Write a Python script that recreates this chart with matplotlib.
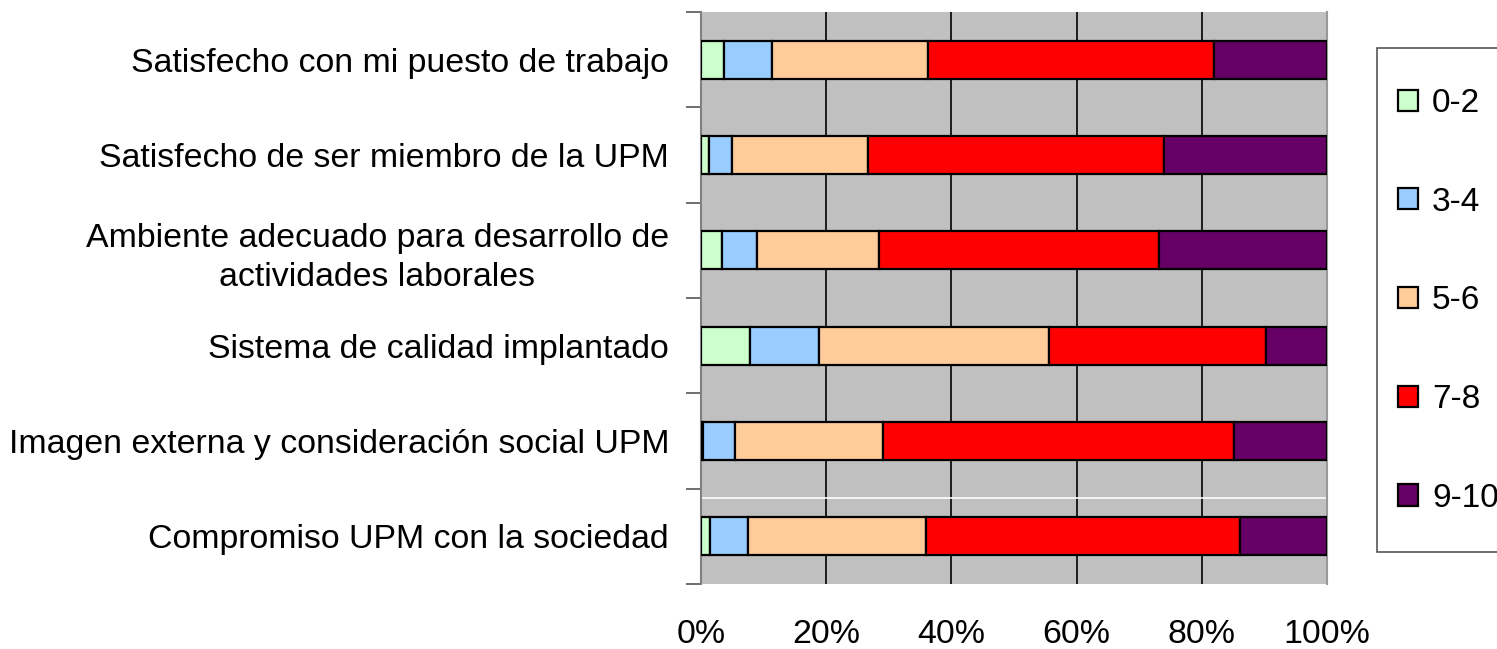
import matplotlib
matplotlib.use("Agg")
import matplotlib.pyplot as plt
from matplotlib.patches import Rectangle
import numpy as np

plt.rcParams['font.family'] = ['Liberation Sans', 'DejaVu Sans']

categories = [
    "Satisfecho con mi puesto de trabajo",
    "Satisfecho de ser miembro de la UPM",
    "Ambiente adecuado para desarrollo de\nactividades laborales",
    "Sistema de calidad implantado",
    "Imagen externa y consideración social UPM",
    "Compromiso UPM con la sociedad",
]
series_names = ["0-2", "3-4", "5-6", "7-8", "9-10"]
v_0_2 = [3.6, 1.2, 3.3, 7.8, 0.3, 1.5]
v_3_4 = [7.7, 3.8, 5.6, 11.1, 5.1, 6.0]
v_5_6 = [25.0, 21.6, 19.5, 36.7, 23.6, 28.5]
v_7_8 = [45.6, 47.3, 44.8, 34.6, 56.1, 50.1]
v_9_10 = [18.1, 26.1, 26.8, 9.8, 14.9, 13.9]
colors = ["#CCFFCC", "#99CCFF", "#FFCC99", "#FF0000", "#660066"]
xticks = [0, 20, 40, 60, 80, 100]
xtick_labels = ["0%", "20%", "40%", "60%", "80%", "100%"]

W, H = 1497, 649
fig = plt.figure(figsize=(W / 100, H / 100), dpi=100)
ax = fig.add_axes([701 / W, 1 - 584 / H, (1327 - 701) / W, (584 - 12) / H])
ax.set_facecolor("#C0C0C0")

data = np.array([v_0_2, v_3_4, v_5_6, v_7_8, v_9_10])
totals = data.sum(axis=0)
data = data / totals * 100
y = np.arange(len(categories))
left = np.zeros(len(categories))
handles = []
for vals, name, c in zip(data, series_names, colors):
    b = ax.barh(y, vals, left=left, height=0.4, color=c, edgecolor="black",
                linewidth=1.6, label=name, zorder=3)
    handles.append(b)
    left += vals

ax.set_xlim(0, 100)
ax.set_ylim(len(categories) - 0.5, -0.5)
ax.set_xticks(xticks)
ax.set_xticklabels(xtick_labels, fontsize=24.4)
ax.tick_params(axis="x", length=0, pad=25)
ax.set_yticks(y)
ax.set_yticklabels(categories, fontsize=24.4)
ax.tick_params(axis="y", which="major", length=0, pad=23)
ax.set_yticks(np.arange(-0.5, len(categories), 1), minor=True)
ax.tick_params(axis="y", which="minor", length=11, width=1.2, color="#555555")
for lab in ax.get_yticklabels():
    lab.set_horizontalalignment("right")
    lab.set_multialignment("center")
    lab.set_linespacing(1.35)
ax.grid(axis="x", color="black", linewidth=1.2, zorder=1)
ax.axhline(4.594, color="white", linewidth=1.2, zorder=2)
for s in ["top", "bottom"]:
    ax.spines[s].set_visible(False)
ax.spines["left"].set_color("#808080")
ax.spines["left"].set_linewidth(1.5)
ax.spines["right"].set_color("#999999")
ax.spines["right"].set_linewidth(1.5)

# legend frame
fig.patches.append(Rectangle((1377 / W, 1 - 552 / H), 140 / W, (552 - 48) / H,
                             transform=fig.transFigure, facecolor="white",
                             edgecolor="#555555", linewidth=1.2, zorder=0))
leg = fig.legend(handles=handles, labels=series_names, loc="upper left",
                 bbox_to_anchor=(1398 / W, 1 - 88 / H), fontsize=24,
                 frameon=False,
                 handlelength=0.6, handleheight=0.6, handletextpad=0.42,
                 labelspacing=2.03, borderpad=0, borderaxespad=0)

fig.savefig("out.png", dpi=100)
